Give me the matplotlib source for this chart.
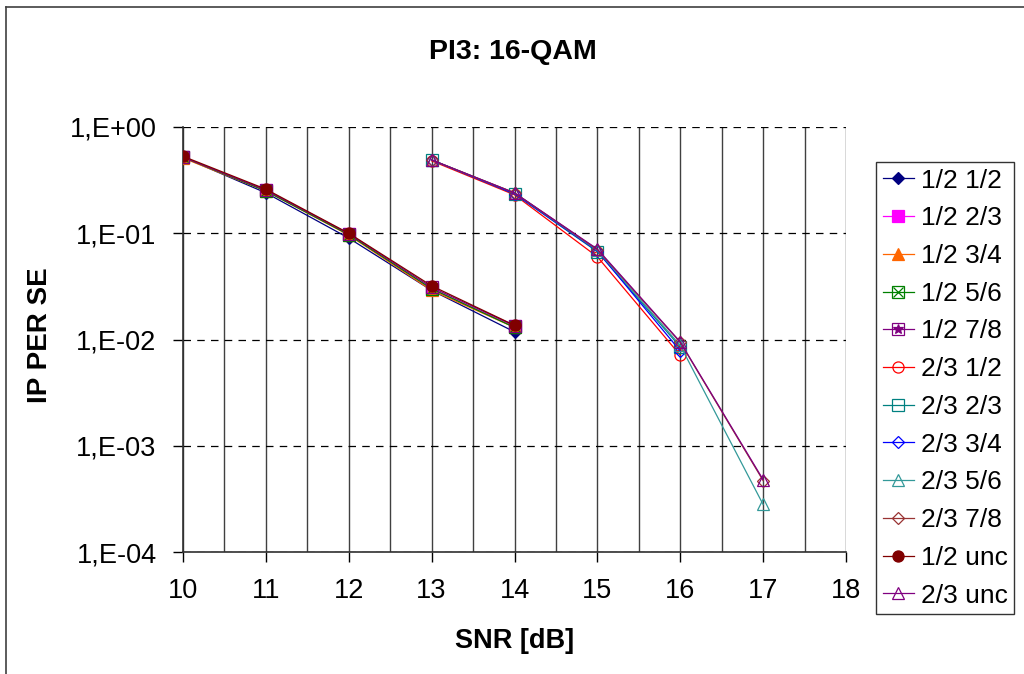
import matplotlib
matplotlib.use("Agg")
import matplotlib.pyplot as plt
from matplotlib.lines import Line2D
from matplotlib.legend_handler import HandlerTuple
from matplotlib.ticker import FixedLocator, NullLocator

plt.rcParams["font.family"] = ["Liberation Sans", "DejaVu Sans"]

# SNR points
snr_a = [10, 11, 12, 13, 14]
snr_b = [13, 14, 15, 16, 17]

# IP PER SE values
per_12_12 = [0.52, 0.24, 0.090, 0.029, 0.0118]
per_12_23 = [0.52, 0.255, 0.098, 0.030, 0.0133]
per_12_34 = [0.51, 0.25, 0.096, 0.029, 0.0130]
per_12_56 = [0.52, 0.25, 0.097, 0.030, 0.0130]
per_12_78 = [0.52, 0.255, 0.099, 0.031, 0.0135]
per_23_12 = [0.48, 0.23, 0.060, 0.0071]
per_23_23 = [0.49, 0.235, 0.067, 0.0085]
per_23_34 = [0.49, 0.235, 0.068, 0.0078]
per_23_56 = [0.49, 0.24, 0.069, 0.0088, 0.00028]
per_23_78 = [0.49, 0.24, 0.070, 0.0094, 0.00047]
per_12_unc = [0.53, 0.26, 0.100, 0.032, 0.0136]
per_23_unc = [0.49, 0.24, 0.071, 0.0095, 0.00048]

labels = ["1/2 1/2", "1/2 2/3", "1/2 3/4", "1/2 5/6", "1/2 7/8",
          "2/3 1/2", "2/3 2/3", "2/3 3/4", "2/3 5/6", "2/3 7/8",
          "1/2 unc", "2/3 unc"]
values = [per_12_12, per_12_23, per_12_34, per_12_56, per_12_78,
          per_23_12, per_23_23, per_23_34, per_23_56, per_23_78,
          per_12_unc, per_23_unc]
groups = ["a", "a", "a", "a", "a", "b", "b", "b", "b", "b", "a", "b"]

y_ticks = [1e-4, 1e-3, 1e-2, 1e-1, 1e0]
y_ticklabels = ["1,E-04", "1,E-03", "1,E-02", "1,E-01", "1,E+00"]
x_ticks = [10, 11, 12, 13, 14, 15, 16, 17, 18]

# (colour, marker, filled, overlay marker)
styles = [
    ("#000080", "D", True, None),
    ("#FF00FF", "s", True, None),
    ("#FF6600", "^", True, None),
    ("#008000", "s", False, "x"),
    ("#800080", "s", False, "*"),
    ("#FF0000", "o", False, None),
    ("#008080", "s", False, None),
    ("#0000FF", "D", False, None),
    ("#339999", "^", False, None),
    ("#993333", "D", False, None),
    ("#800000", "o", True, None),
    ("#800080", "^", False, None),
]
msizes = {"D": 6, "s": 8, "^": 8, "o": 8}

fig = plt.figure(figsize=(10.24, 6.74), dpi=100)
ax = fig.add_axes([183 / 1024, 1 - 552 / 674, (846 - 183) / 1024, (552 - 127) / 674])

handles = []
for lab, vals, grp, (col, mk, filled, extra) in zip(labels, values, groups, styles):
    xs = (snr_a if grp == "a" else snr_b)[:len(vals)]
    ms = msizes[mk]
    fc = col if filled else "none"
    (ln,) = ax.plot(xs, vals, color=col, lw=0.9, marker=mk, ms=ms,
                    mfc=fc, mec=col, mew=0.9, zorder=3)
    h = ln
    if extra:
        (ov,) = ax.plot(xs, vals, ls="none", marker=extra, ms=ms - 1,
                        mfc=col, mec=col, mew=0.9, color=col, zorder=3)
        h = (ln, ov)
    handles.append(h)

ax.set_yscale("log")
ax.set_ylim(1e-4, 1e0)
ax.set_xlim(10, 18)

ax.yaxis.set_major_locator(FixedLocator(y_ticks))
ax.yaxis.set_minor_locator(NullLocator())
ax.set_yticklabels(y_ticklabels)
ax.xaxis.set_major_locator(FixedLocator(x_ticks))
ax.set_xticks([v + 0.5 for v in x_ticks[:-1]], minor=True)

ax.tick_params(axis="both", which="major", direction="out", length=7,
               width=1, labelsize=19.5, pad=12, colors="black")
ax.tick_params(axis="y", which="major", pad=12)
ax.tick_params(axis="x", which="minor", length=0)

ax.grid(True, axis="x", which="both", color="#404040", lw=1, ls="-", zorder=1)
ax.grid(True, axis="y", which="major", color="black", lw=0.9,
        ls=(0, (6, 5)), zorder=1)

for side in ["top", "right"]:
    ax.spines[side].set_visible(False)
for side in ["left", "bottom"]:
    ax.spines[side].set_color("#303030")
    ax.spines[side].set_linewidth(1.2)

fig.text(513 / 1024, 1 - 52 / 674, "PI3: 16-QAM", ha="center", va="center",
         fontsize=20.5, fontweight="bold")
fig.text(515 / 1024, 1 - 641 / 674, "SNR [dB]", ha="center", va="center",
         fontsize=19.5, fontweight="bold")
fig.text(40 / 1024, 1 - 335 / 674, "IP PER SE", ha="center", va="center",
         rotation=90, fontsize=20, fontweight="bold")

leg = fig.legend(handles, labels, loc="upper left",
                 bbox_to_anchor=(876 / 1024, 1 - 162 / 674),
                 handler_map={tuple: HandlerTuple(ndivide=1)},
                 fontsize=19, frameon=True, fancybox=False, edgecolor="black",
                 borderpad=0.25, labelspacing=0.52, handlelength=1.2,
                 handletextpad=0.25, borderaxespad=0)
leg.get_frame().set_linewidth(1)

# outer chart border (left and top)
fig.add_artist(Line2D([6 / 1024, 6 / 1024], [0, 1 - 7 / 674], color="#404040",
                      lw=1.2, transform=fig.transFigure))
fig.add_artist(Line2D([6 / 1024, 1], [1 - 7 / 674, 1 - 7 / 674], color="#404040",
                      lw=1.2, transform=fig.transFigure))

fig.savefig("out.png", dpi=100)
